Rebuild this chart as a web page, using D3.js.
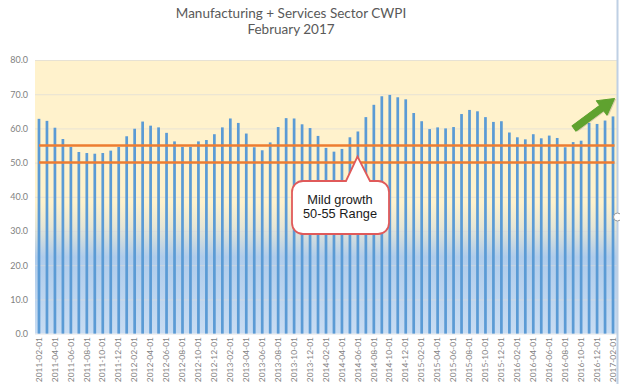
<!DOCTYPE html>
<html>
<head>
<meta charset="utf-8">
<script src="https://cdn.jsdelivr.net/npm/d3@7"></script>
<style>
  body { margin: 0; background: #fff; }
  svg { display: block; }
</style>
</head>
<body>
<div id="chart"></div>
<script>
const width = 620;
const height = 384;

const titleLines = ['Manufacturing + Services Sector CWPI', 'February 2017'];
const firstMonth = '2011-02-01';
const lastMonth = '2017-02-01';
const cwpi = [
  62.8, 62.2, 60.2, 56.9, 54.6, 53.1, 52.8, 52.6, 52.8, 53.5, 54.6, 57.7,
  59.9, 62.0, 60.8, 60.3, 58.7, 56.2, 54.6, 54.6, 56.2, 56.6, 58.3, 60.3,
  62.9, 61.6, 58.5, 54.5, 53.6, 55.9, 60.4, 63.0, 62.9, 61.2, 60.1, 57.8,
  54.3, 53.2, 54.0, 57.4, 59.1, 63.3, 66.9, 69.4, 69.8, 69.1, 68.5, 64.5,
  62.1, 59.8, 60.3, 60.0, 60.4, 64.2, 65.4, 65.0, 63.3, 61.9, 62.1, 58.8,
  57.4, 56.8, 58.3, 57.1, 57.9, 57.2, 54.5, 56.0, 56.4, 61.6, 61.3, 62.3,
  63.5
];
const rangeLines = [50, 55];
const yTicks = [0, 10, 20, 30, 40, 50, 60, 70, 80];
const calloutLines = ['Mild growth', '50-55 Range'];

const parse = d3.utcParse('%Y-%m-%d');
const fmt = d3.utcFormat('%Y-%m-%d');
const months = d3.utcMonth.range(parse(firstMonth), d3.utcMonth.offset(parse(lastMonth), 1)).map(fmt);
const data = months.map((m, i) => ({label: m, value: cwpi[i]}));

const plot = {left: 35, right: 617, top: 60, bottom: 333.6};

const svg = d3.select('#chart').append('svg')
  .attr('width', width)
  .attr('height', height);

const defs = svg.append('defs');
const bg = defs.append('linearGradient')
  .attr('id', 'plot-bg')
  .attr('x1', 0).attr('y1', 0).attr('x2', 0).attr('y2', 1);
[['0%', '#FFF2CC'], ['52%', '#FFF2CC'], ['61%', '#E6E6D6'], ['72%', '#AFCCEB'], ['100%', '#C8DCF2']]
  .forEach(([o, c]) => bg.append('stop').attr('offset', o).attr('stop-color', c));

const x = d3.scaleBand()
  .domain(months)
  .range([plot.left, plot.right])
  .paddingInner(0.66)
  .paddingOuter(0.33);

const y = d3.scaleLinear()
  .domain([0, 80])
  .range([plot.bottom, plot.top]);

// title
svg.append('g')
  .selectAll('text')
  .data(titleLines)
  .join('text')
  .attr('x', 291)
  .attr('y', (d, i) => 18 + i * 16)
  .attr('text-anchor', 'middle')
  .attr('font-family', 'Lato, "Open Sans", sans-serif')
  .attr('font-size', '13.5px')
  .attr('fill', '#595959')
  .text(d => d);

// plot background
svg.append('rect')
  .attr('x', plot.left)
  .attr('y', plot.top)
  .attr('width', plot.right - plot.left)
  .attr('height', plot.bottom - plot.top)
  .attr('fill', 'url(#plot-bg)');

// y grid + labels
const yAxis = svg.append('g')
  .attr('transform', `translate(${plot.left},0)`)
  .call(d3.axisLeft(y).tickValues(yTicks).tickFormat(d3.format('.1f')).tickSize(-(plot.right - plot.left)).tickPadding(7));
yAxis.select('.domain').remove();
yAxis.selectAll('line').attr('stroke', '#D9D9D9').attr('stroke-width', 0.8).attr('stroke-opacity', 0.8);
yAxis.selectAll('text')
  .attr('fill', '#7F7F7F')
  .attr('font-family', 'Lato, "Open Sans", sans-serif')
  .attr('font-size', '9px');

// bars
svg.append('g')
  .selectAll('rect')
  .data(data)
  .join('rect')
  .attr('x', d => x(d.label))
  .attr('y', d => y(d.value))
  .attr('width', x.bandwidth())
  .attr('height', d => y(0) - y(d.value))
  .attr('fill', '#5B9BD5');

// 50-55 range lines
const firstX = x(months[0]) + x.bandwidth() / 2;
const lastX = x(months[months.length - 1]) + x.bandwidth() / 2 + 1.5;
svg.append('g')
  .selectAll('line')
  .data(rangeLines)
  .join('line')
  .attr('x1', firstX)
  .attr('x2', lastX)
  .attr('y1', d => y(d))
  .attr('y2', d => y(d))
  .attr('stroke', '#ED7D31')
  .attr('stroke-width', 2.5);

// x labels
const xAxis = svg.append('g')
  .attr('transform', `translate(0,${plot.bottom})`)
  .call(d3.axisBottom(x).tickValues(months.filter((m, i) => i % 2 === 0)).tickSize(0).tickPadding(0));
xAxis.select('.domain').remove();
xAxis.selectAll('text')
  .attr('transform', 'rotate(-90)')
  .attr('text-anchor', 'end')
  .attr('x', -3.5)
  .attr('y', 0)
  .attr('dy', '0.32em')
  .attr('fill', '#7F7F7F')
  .attr('font-family', 'Lato, "Open Sans", sans-serif')
  .attr('font-size', '8.4px');

// callout
const box = {x0: 292, x1: 389, y0: 181, y1: 234, r: 11};
const tip = [357.5, y(50) - 6];
const p = d3.path();
p.moveTo(box.x0 + box.r, box.y0);
p.lineTo(346, box.y0);
p.lineTo(tip[0], tip[1]);
p.lineTo(370, box.y0);
p.lineTo(box.x1 - box.r, box.y0);
p.arcTo(box.x1, box.y0, box.x1, box.y0 + box.r, box.r);
p.lineTo(box.x1, box.y1 - box.r);
p.arcTo(box.x1, box.y1, box.x1 - box.r, box.y1, box.r);
p.lineTo(box.x0 + box.r, box.y1);
p.arcTo(box.x0, box.y1, box.x0, box.y1 - box.r, box.r);
p.lineTo(box.x0, box.y0 + box.r);
p.arcTo(box.x0, box.y0, box.x0 + box.r, box.y0, box.r);
p.closePath();
svg.append('path')
  .attr('d', p.toString())
  .attr('fill', '#FFFFFF')
  .attr('stroke', '#E05A5A')
  .attr('stroke-width', 1.8);
svg.append('g')
  .selectAll('text')
  .data(calloutLines)
  .join('text')
  .attr('x', 340)
  .attr('y', (d, i) => 203.5 + i * 14.5)
  .attr('text-anchor', 'middle')
  .attr('font-family', '"Liberation Sans", Arial, sans-serif')
  .attr('font-size', '12.8px')
  .attr('fill', '#1A1A1A')
  .text(d => d);

// green trend arrow
const a0 = [574, 128.5], a1 = [614.5, 98.5];
const len = Math.hypot(a1[0] - a0[0], a1[1] - a0[1]);
const arrowGroup = svg.append('g')
  .attr('transform', `translate(${a0[0]},${a0[1]}) rotate(${Math.atan2(a1[1] - a0[1], a1[0] - a0[0]) * 180 / Math.PI})`);
const headLen = 16, headHalf = 9, shaftHalf = 3.3;
const arrowPts = [[0, -shaftHalf], [len - headLen, -shaftHalf], [len - headLen, -headHalf], [len, 0],
  [len - headLen, headHalf], [len - headLen, shaftHalf], [0, shaftHalf]];
arrowGroup.append('polygon')
  .attr('points', arrowPts.map(d => d.join(',')).join(' '))
  .attr('transform', 'translate(1,1.5)')
  .attr('fill', '#000')
  .attr('opacity', 0.15);
arrowGroup.append('polygon')
  .attr('points', arrowPts.map(d => d.join(',')).join(' '))
  .attr('fill', '#5FA22F')
  .attr('stroke', '#5FA22F')
  .attr('stroke-linejoin', 'round')
  .attr('stroke-width', 1);

// chart frame edge + handle
svg.append('line')
  .attr('x1', 617.5).attr('x2', 617.5)
  .attr('y1', 0).attr('y2', height)
  .attr('stroke', '#BFD0E4')
  .attr('stroke-width', 2);
svg.append('circle')
  .attr('cx', 617.5).attr('cy', 217)
  .attr('r', 4)
  .attr('fill', '#fff')
  .attr('stroke', '#9A9A9A')
  .attr('stroke-width', 1);
</script>
</body>
</html>
